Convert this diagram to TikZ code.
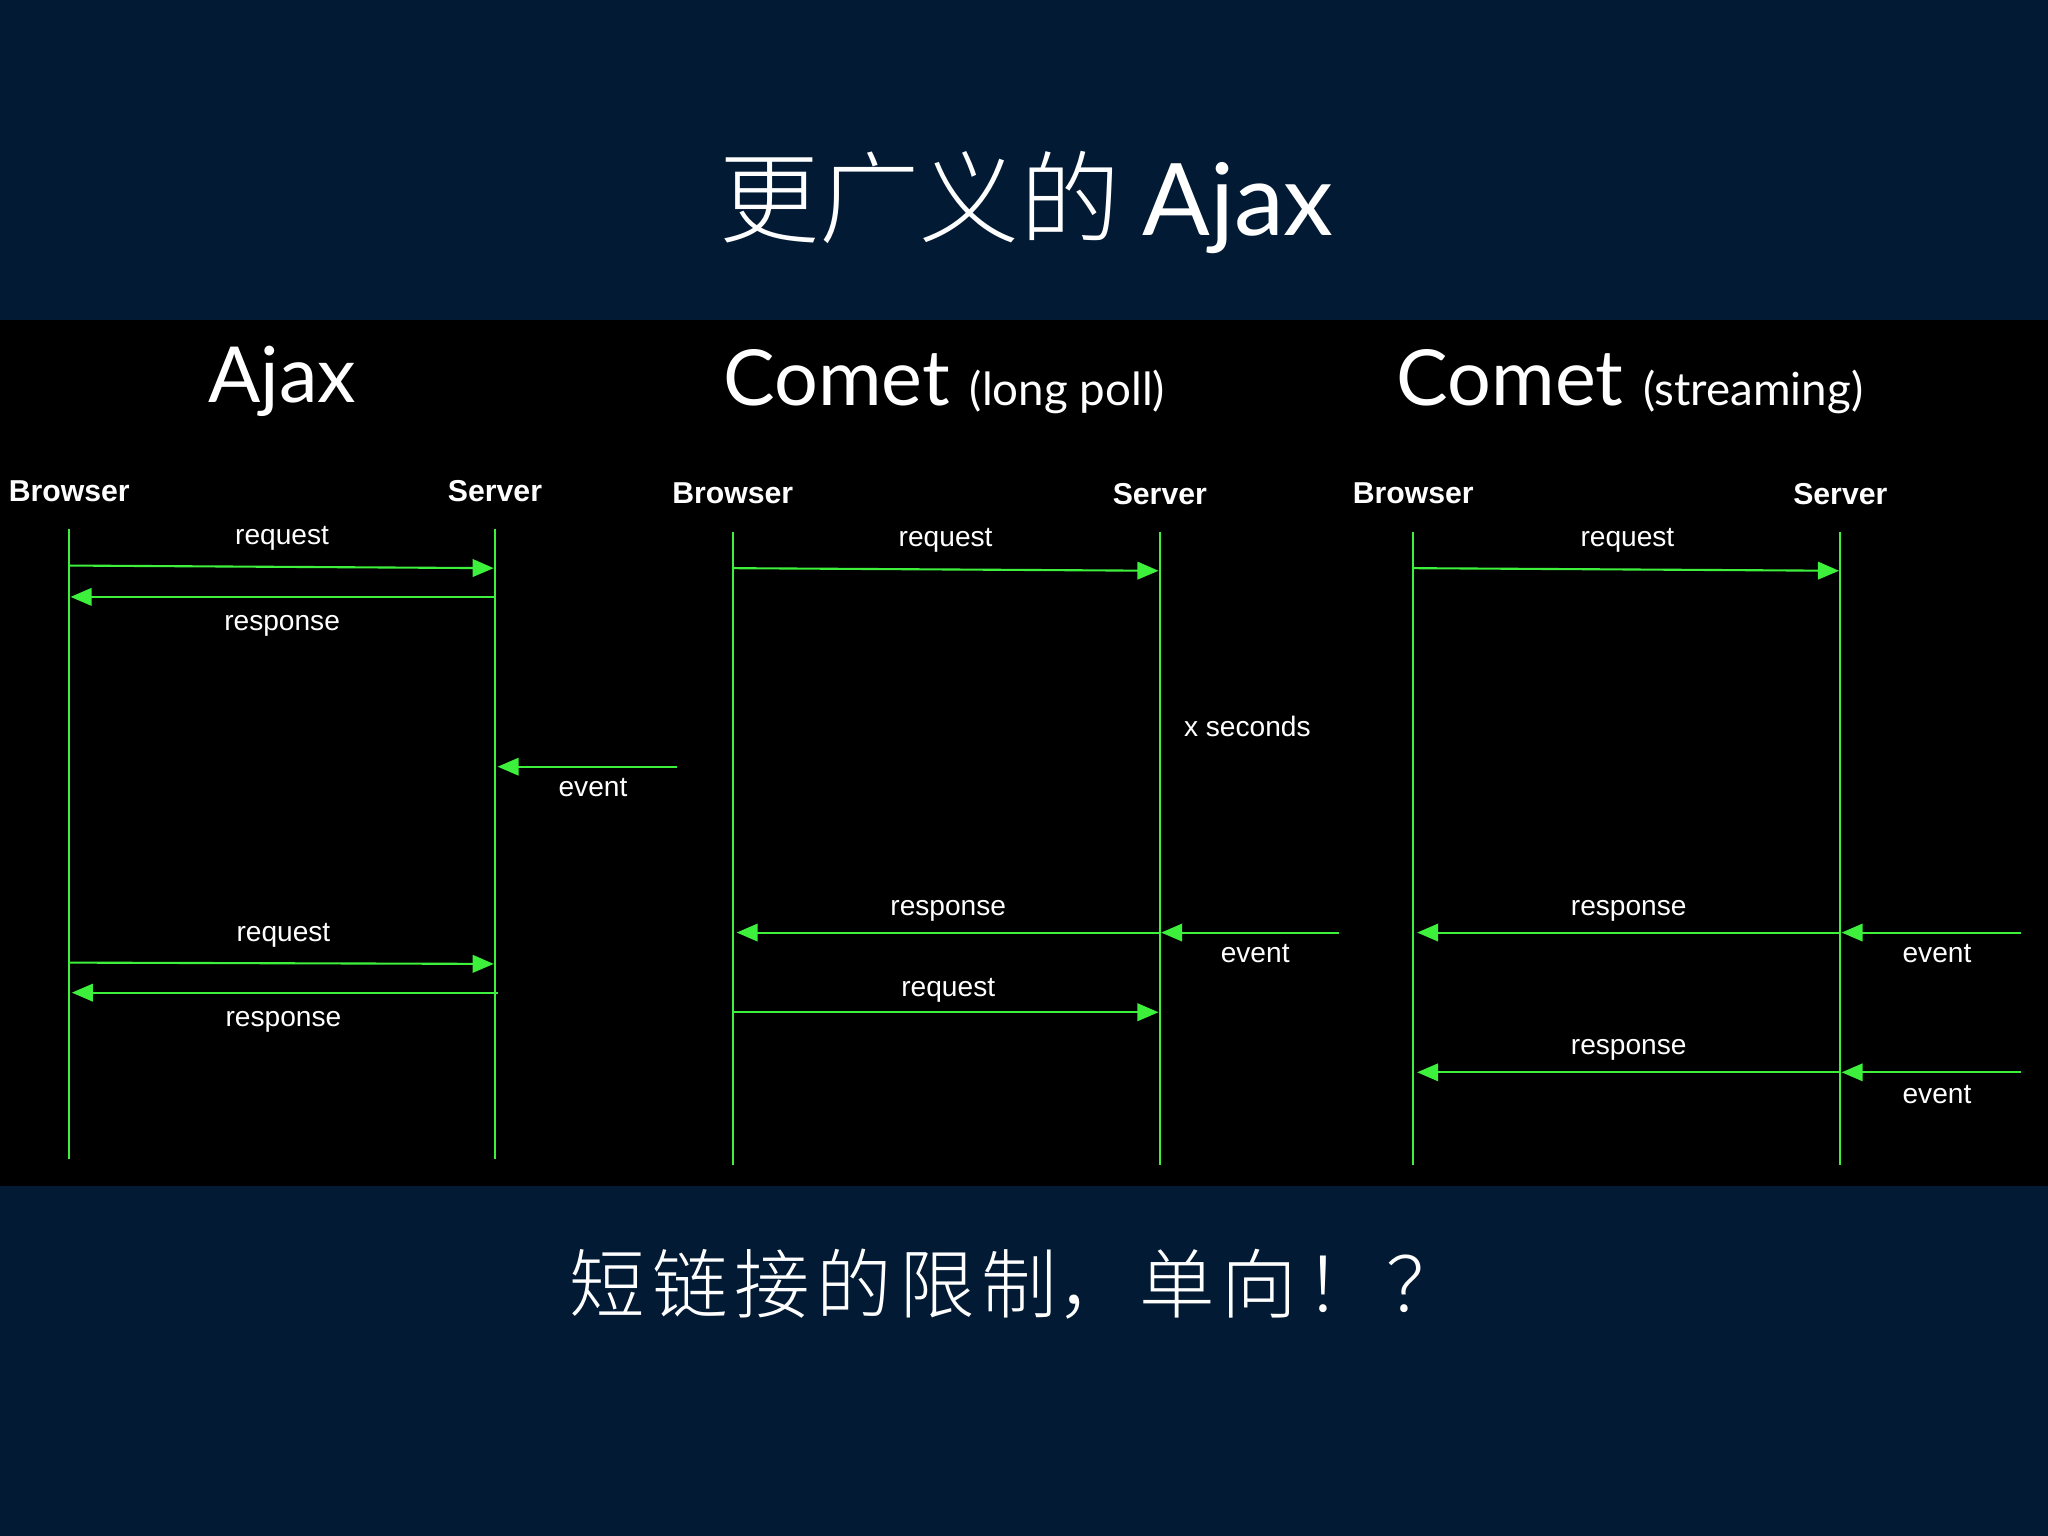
\documentclass[tikz,border=0pt]{standalone}
\usepackage{fontspec}
\setmainfont{Liberation Sans}
\newfontfamily\cjk{Noto Sans CJK SC Light}
\newfontfamily\gill{Lato}
\usetikzlibrary{arrows.meta}
\definecolor{navy}{HTML}{021A33}
\definecolor{grn}{HTML}{3CF03C}
\newcommand{\gp}{\hspace{0.09em}}
\begin{document}
\begin{tikzpicture}[x=0.013061cm,y=-0.013061cm,
  life/.style={grn,line width=0.5pt},
  msg/.style={grn,line width=0.6pt,-{Triangle[length=6pt,width=5pt]}},
  lbl/.style={white,font=\fontsize{8}{9}\selectfont},
  hdr/.style={white,font=\bfseries\fontsize{8.6}{10}\selectfont},
  big/.style={white,font=\gill\fontsize{22}{24}\selectfont}]
\fill[navy] (0,0) rectangle (1568,1176);
\fill[black] (0,245) rectangle (1568,908);
\useasboundingbox (0,0) rectangle (1568,1176);
\node[white,font=\cjk\fontsize{28.5}{30}\selectfont] (title) at (786,155) {更广义的 {\gill Ajax}};
\node[white,font=\cjk\fontsize{21.5}{24}\selectfont] (foot) at (778,983) {短\gp 链\gp 接\gp 的\gp 限\gp 制，\gp 单\gp 向\gp ！\gp ？};
% headings
\node[big] (h1) at (216,292) {Ajax};
\node[big] (h2) at (723,292) {Comet {\fontsize{13}{15}\selectfont(long poll)}};
\node[big] (h3) at (1248,292) {Comet {\fontsize{13}{15}\selectfont(streaming)}};
% lifelines
\foreach \n/\x/\a/\b in {b1/53/405/887, s1/379/405/887, b2/561/407/892, s2/888/407/892, b3/1082/407/892, s3/1409/407/892}{
  \coordinate (\n t) at (\x,\a); \coordinate (\n e) at (\x,\b);
  \draw[life] (\n t) -- (\n e);}
\node[hdr] (hb1) at (53,376) {Browser}; \node[hdr] (hs1) at (379,376) {Server};
\node[hdr] (hb2) at (561,378) {Browser}; \node[hdr] (hs2) at (888,378) {Server};
\node[hdr] (hb3) at (1082,378) {Browser}; \node[hdr] (hs3) at (1409,378) {Server};
% Ajax
\coordinate (a1) at (53,433); \coordinate (a2) at (378,435);
\coordinate (a3) at (379,457); \coordinate (a4) at (54,457);
\coordinate (a5) at (518,587); \coordinate (a6) at (381,587);
\coordinate (a7) at (53,737); \coordinate (a8) at (378,738);
\coordinate (a9) at (381,760); \coordinate (a10) at (55,760);
\draw[msg] (a1) -- (a2); \draw[msg] (a3) -- (a4); \draw[msg] (a5) -- (a6);
\draw[msg] (a7) -- (a8); \draw[msg] (a9) -- (a10);
\node[lbl] (l1) at (216,412) {request}; \node[lbl] (l2) at (216,479) {response};
\node[lbl] (l3) at (454,603) {event}; \node[lbl] (l4) at (217,716) {request};
\node[lbl] (l5) at (217,782) {response};
% Comet long poll
\coordinate (c1) at (561,435); \coordinate (c2) at (887,437);
\coordinate (c3) at (888,714); \coordinate (c4) at (564,714);
\coordinate (c5) at (1025,714); \coordinate (c6) at (889,714);
\coordinate (c7) at (561,775); \coordinate (c8) at (887,775);
\draw[msg] (c1) -- (c2); \draw[msg] (c3) -- (c4); \draw[msg] (c5) -- (c6); \draw[msg] (c7) -- (c8);
\node[lbl] (m1) at (724,414) {request}; \node[lbl] (m2) at (955,556) {x seconds};
\node[lbl] (m3) at (726,697) {response}; \node[lbl] (m4) at (961,730) {event};
\node[lbl] (m5) at (726,758) {request};
% Comet streaming
\coordinate (d1) at (1082,435); \coordinate (d2) at (1408,437);
\coordinate (d3) at (1409,714); \coordinate (d4) at (1085,714);
\coordinate (d5) at (1547,714); \coordinate (d6) at (1410,714);
\coordinate (d7) at (1409,821); \coordinate (d8) at (1085,821);
\coordinate (d9) at (1547,821); \coordinate (d10) at (1410,821);
\draw[msg] (d1) -- (d2); \draw[msg] (d3) -- (d4); \draw[msg] (d5) -- (d6);
\draw[msg] (d7) -- (d8); \draw[msg] (d9) -- (d10);
\node[lbl] (n1) at (1246,414) {request}; \node[lbl] (n2) at (1247,697) {response};
\node[lbl] (n3) at (1483,730) {event}; \node[lbl] (n4) at (1247,804) {response};
\node[lbl] (n5) at (1483,838) {event};
\end{tikzpicture}
\end{document}
